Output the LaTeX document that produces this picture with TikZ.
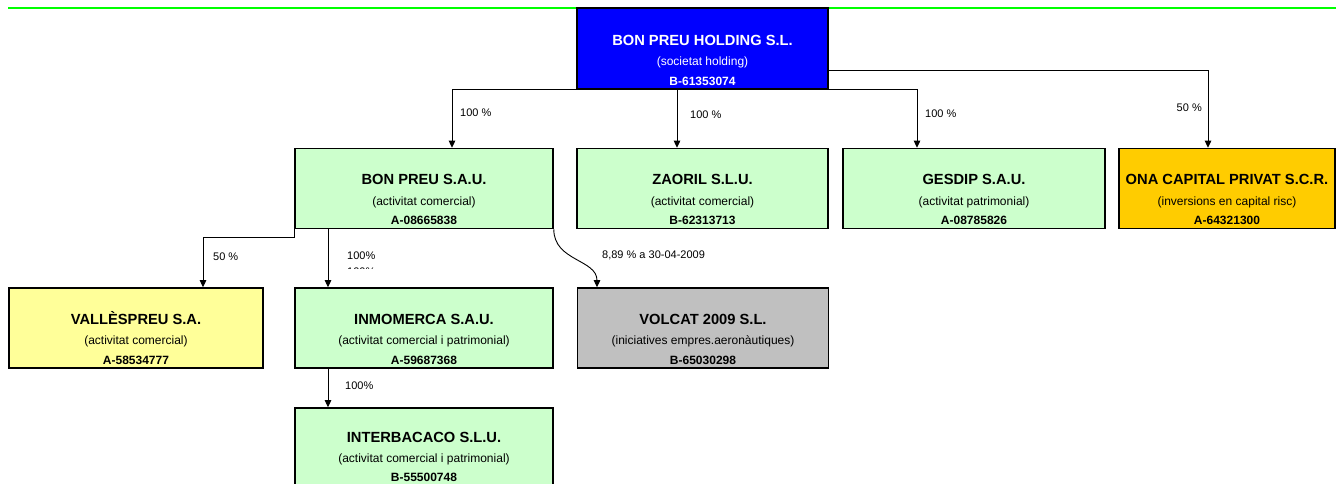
\documentclass[tikz,border=0pt]{standalone}
\usepackage{fontspec}
\setmainfont{Liberation Sans}
\usetikzlibrary{arrows.meta}
\definecolor{holdingblue}{RGB}{0,0,255}
\definecolor{palegreen}{RGB}{204,255,204}
\definecolor{paleyellow}{RGB}{255,255,153}
\definecolor{onagold}{RGB}{255,204,0}
\definecolor{volcatgray}{RGB}{192,192,192}
\definecolor{gridgreen}{RGB}{0,255,0}
\newcommand{\firmname}[1]{{\fontsize{14.7}{18}\selectfont\bfseries #1}}
\tikzset{>={Triangle[length=7pt,width=6.5pt]},
  firm/.style={draw=black, line width=1.6pt, rectangle, inner sep=0pt, minimum height=80pt},
  firmtxt/.style={anchor=south, align=center, inner sep=0pt, yshift=4pt, font=\fontsize{12}{19.5}\selectfont},
  share/.style={->, line width=0.9pt},
  pct/.style={font=\fontsize{11}{13}\selectfont, inner sep=0pt}}

\begin{document}
\begin{tikzpicture}[x={(1pt,0pt)}, y={(0pt,-1pt)}]
    \useasboundingbox (0,0) rectangle (1336,484);
    \draw[draw=gridgreen, line width=1.3pt] (8,8) -- (1336,8);
    % companies
    \node[firm, fill=holdingblue, minimum width=251pt, minimum height=81pt] (holding) at (702.5,48.5) {};
    \node[firm, fill=palegreen, minimum width=258pt] (bonpreu) at (424,188.5) {};
    \node[firm, fill=palegreen, minimum width=251pt] (zaoril) at (702.5,188.5) {};
    \node[firm, fill=palegreen, minimum width=262pt] (gesdip) at (974,188.5) {};
    \node[firm, fill=onagold, minimum width=216pt] (ona) at (1227,188.5) {};
    \node[firm, fill=paleyellow, minimum width=254pt] (valles) at (136,328) {};
    \node[firm, fill=palegreen, minimum width=258pt] (inmomerca) at (424,328) {};
    \node[firm, fill=volcatgray, minimum width=251pt] (volcat) at (703,328) {};
    \node[firm, fill=palegreen, minimum width=258pt] (interbacaco) at (424,448) {};
    % texts
    \node[firmtxt, text=white] (holding-txt) at (holding.south) {\firmname{BON PREU HOLDING S.L.}\\[1pt](societat holding)\\\textbf{B-61353074}};
    \node[firmtxt] (bonpreu-txt) at (bonpreu.south) {\firmname{BON PREU S.A.U.}\\[1pt](activitat comercial)\\\textbf{A-08665838}};
    \node[firmtxt] (zaoril-txt) at (zaoril.south) {\firmname{ZAORIL S.L.U.}\\[1pt](activitat comercial)\\\textbf{B-62313713}};
    \node[firmtxt] (gesdip-txt) at (gesdip.south) {\firmname{GESDIP S.A.U.}\\[1pt](activitat patrimonial)\\\textbf{A-08785826}};
    \node[firmtxt] (ona-txt) at (ona.south) {\firmname{ONA CAPITAL PRIVAT S.C.R.}\\[1pt](inversions en capital risc)\\\textbf{A-64321300}};
    \node[firmtxt] (valles-txt) at (valles.south) {\firmname{VALLÈSPREU S.A.}\\[1pt](activitat comercial)\\\textbf{A-58534777}};
    \node[firmtxt] (inmomerca-txt) at (inmomerca.south) {\firmname{INMOMERCA S.A.U.}\\[1pt](activitat comercial i patrimonial)\\\textbf{A-59687368}};
    \node[firmtxt] (volcat-txt) at (volcat.south) {\firmname{VOLCAT 2009 S.L.}\\[1pt](iniciatives empres.aeronàutiques)\\\textbf{B-65030298}};
    \node[firmtxt, yshift=2.5pt] (interbacaco-txt) at (interbacaco.south) {\firmname{INTERBACACO S.L.U.}\\[0pt](activitat comercial i patrimonial)\\\textbf{B-55500748}};
    % shareholdings
    \draw[share] (holding.south west) -| ([xshift=28pt]bonpreu.north);
    \draw[share] ([xshift=-25.5pt]holding.south) -- ([xshift=-25.5pt]zaoril.north);
    \draw[share] (holding.south east) -| ([xshift=-57pt]gesdip.north);
    \draw[share] ([yshift=19pt]holding.south east) -| ([xshift=-19pt]ona.north);
    \draw[share] (bonpreu.south west) -- ++(0,8) -| ([xshift=67pt]valles.north);
    \draw[share] ([xshift=-96pt]bonpreu.south) -- ([xshift=-96pt]inmomerca.north);
    \draw[share] (bonpreu.south east) .. controls +(0,32) and +(0,-28) .. ([xshift=-106pt]volcat.north);
    \draw[share] ([xshift=-96pt]inmomerca.south) -- ([xshift=-96pt]interbacaco.north);
    % percentages
    \node[pct, anchor=west] (pct-bonpreu) at (460,113) {100 \%};
    \node[pct, anchor=west] (pct-zaoril) at (690,115) {100 \%};
    \node[pct, anchor=west] (pct-gesdip) at (925,114) {100 \%};
    \node[pct, anchor=east] (pct-ona) at (1202,108) {50 \%};
    \node[pct, anchor=west] (pct-valles) at (213,257) {50 \%};
    \node[pct, anchor=west] (pct-inmomerca) at (347,256) {100\%};
    \begin{scope}
        \clip (340,262) rectangle (390,268.5);
        \node[pct, anchor=west] (pct-inmomerca-b) at (347,272) {100\%};
    \end{scope}
    \node[pct, anchor=west] (pct-volcat) at (602,255) {8,89 \% a 30-04-2009};
    \node[pct, anchor=west] (pct-interbacaco) at (345,386) {100\%};
\end{tikzpicture}
\end{document}
